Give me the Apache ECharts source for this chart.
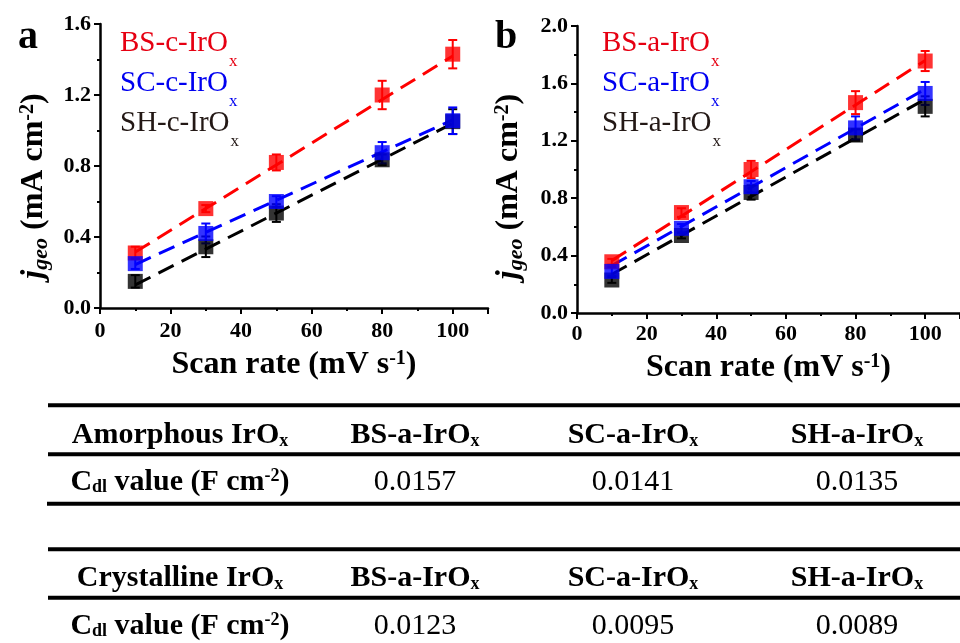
<!DOCTYPE html>
<html><head><meta charset="utf-8">
<script src="https://cdn.jsdelivr.net/npm/echarts@6/dist/echarts.min.js"></script>
<style>html,body{margin:0;padding:0;background:#fff}#c{width:960px;height:643px}</style>
</head><body><div id="c"></div>
<script>
// ---------- data ----------
const scanRates = [10, 30, 50, 80, 100];
const xTicks = [0, 20, 40, 60, 80, 100];
const xAxisEnd = 110;
const yTicksA = [0, 0.4, 0.8, 1.2, 1.6];
const yTicksB = [0, 0.4, 0.8, 1.2, 1.6, 2.0];

// panel a (crystalline)
const bsC = [0.31, 0.56, 0.82, 1.20, 1.43];
const bsCErr = [0.035, 0.02, 0.045, 0.08, 0.08];
const scC = [0.25, 0.42, 0.60, 0.875, 1.055];
const scCErr = [0.03, 0.056, 0.03, 0.06, 0.075];
const shC = [0.15, 0.345, 0.535, 0.835, 1.05];
const shCErr = [0.035, 0.058, 0.05, 0.03, 0.07];
const fitX = [10, 100];
const bsCFit = [0.315, 1.42];
const scCFit = [0.245, 1.06];
const shCFit = [0.13, 1.04];

// panel b (amorphous)
const bsA = [0.357, 0.70, 1.00, 1.466, 1.756];
const bsAErr = [0.02, 0.03, 0.06, 0.08, 0.07];
const scA = [0.29, 0.59, 0.88, 1.29, 1.53];
const scAErr = [0.03, 0.03, 0.04, 0.08, 0.08];
const shA = [0.23, 0.54, 0.84, 1.24, 1.44];
const shAErr = [0.02, 0.02, 0.05, 0.04, 0.07];
const bsAFit = [0.365, 1.76];
const scAFit = [0.33, 1.56];
const shAFit = [0.27, 1.49];

const legendA = ['BS-c-IrO', 'SC-c-IrO', 'SH-c-IrO'];
const legendB = ['BS-a-IrO', 'SC-a-IrO', 'SH-a-IrO'];

// table
const tableRowHeads = ['Amorphous IrO', 'Crystalline IrO'];
const tableCols = ['BS-a-IrO', 'SC-a-IrO', 'SH-a-IrO'];
const amorphousCdl = ['0.0157', '0.0141', '0.0135'];
const crystallineCdl = ['0.0123', '0.0095', '0.0089'];

// ---------- styles ----------
const FONT = "'Liberation Serif','Times New Roman',Times,serif";
const RED = '#ff0000', BLUE = '#0000ff', BLACK = '#000000';
const RED_T = '#e60012', BLUE_T = '#0000f0', BLACK_T = '#231815';

function fitSeries(fit, color, gi) {
  return { type: 'line', xAxisIndex: gi, yAxisIndex: gi, z: 2, silent: true,
    data: fitX.map((x, i) => [x, fit[i]]), symbol: 'none', showSymbol: false,
    lineStyle: { color, width: 3, type: [17, 9] } };
}
function errSeries(ys, errs, color, gi) {
  return { type: 'custom', xAxisIndex: gi, yAxisIndex: gi, z: 3, silent: true,
    data: scanRates.map((x, i) => [x, ys[i] - errs[i], ys[i] + errs[i]]),
    encode: { x: 0, y: [1, 2] },
    renderItem(params, api) {
      const x = api.value(0);
      const lo = api.coord([x, api.value(1)]);
      const hi = api.coord([x, api.value(2)]);
      const cw = 4.5, st = { stroke: color, lineWidth: 2 };
      return { type: 'group', children: [
        { type: 'line', shape: { x1: lo[0], y1: lo[1], x2: hi[0], y2: hi[1] }, style: st },
        { type: 'line', shape: { x1: hi[0] - cw, y1: hi[1], x2: hi[0] + cw, y2: hi[1] }, style: st },
        { type: 'line', shape: { x1: lo[0] - cw, y1: lo[1], x2: lo[0] + cw, y2: lo[1] }, style: st }
      ]};
    } };
}
function dotSeries(ys, color, gi) {
  return { type: 'scatter', xAxisIndex: gi, yAxisIndex: gi, z: 4, silent: true,
    symbol: 'rect', symbolSize: 15, itemStyle: { color },
    data: scanRates.map((x, i) => [x, ys[i]]) };
}

const tickLine = { color: '#000', width: 2 };
function xAxisOpt(gi, margin, nameGap) {
  return { gridIndex: gi, type: 'value', min: xTicks[0], max: xAxisEnd,
    interval: xTicks[1] - xTicks[0],
    axisLine: { show: true, onZero: false, lineStyle: { color: '#000', width: 2.5 } },
    axisTick: { show: true, inside: false, length: 6, lineStyle: tickLine },
    minorTick: { show: true, splitNumber: 2, length: 3, lineStyle: tickLine },
    splitLine: { show: false }, minorSplitLine: { show: false },
    axisLabel: { show: true, margin, color: '#000', fontFamily: FONT, fontSize: 22, fontWeight: 'bold',
      formatter: v => (v > xTicks[xTicks.length - 1] ? '' : String(v)) },
    name: '{b|Scan rate (mV s}{sup|-1}{b|)}', nameLocation: 'middle', nameGap,
    nameMoveOverlap: false,
    nameTextStyle: { rich: {
      b: { fontFamily: FONT, fontSize: 32, fontWeight: 'bold', lineHeight: 36, verticalAlign: 'top', color: '#000' },
      sup: { fontFamily: FONT, fontSize: 20, fontWeight: 'bold', lineHeight: 20, verticalAlign: 'top', color: '#000' }
    } } };
}
function yAxisOpt(gi, ticks, nameGap, shift) {
  return { gridIndex: gi, type: 'value', min: ticks[0], max: ticks[ticks.length - 1],
    interval: ticks[1] - ticks[0],
    axisLine: { show: true, onZero: false, lineStyle: { color: '#000', width: 2.5 } },
    axisTick: { show: true, inside: false, length: 6, lineStyle: tickLine },
    minorTick: { show: true, splitNumber: 2, length: 3, lineStyle: tickLine },
    splitLine: { show: false }, minorSplitLine: { show: false },
    axisLabel: { show: true, margin: 9, color: '#000', fontFamily: FONT, fontSize: 22, fontWeight: 'bold',
      formatter: v => v.toFixed(1) },
    name: '{j|j}{g|geo}{b| (mA cm}{sup|-2}{b|)}', nameLocation: 'middle', nameGap, nameRotate: 90,
    nameMoveOverlap: false,
    nameTextStyle: { padding: [0, shift, 0, 0], rich: {
      j: { fontFamily: FONT, fontSize: 32, fontWeight: 'bold', fontStyle: 'italic', lineHeight: 36, verticalAlign: 'top', color: '#000' },
      g: { fontFamily: FONT, fontSize: 22, fontWeight: 'bold', fontStyle: 'italic', lineHeight: 22, padding: [12, 0, 0, 0], verticalAlign: 'top', color: '#000' },
      b: { fontFamily: FONT, fontSize: 32, fontWeight: 'bold', lineHeight: 36, verticalAlign: 'top', color: '#000' },
      sup: { fontFamily: FONT, fontSize: 20, fontWeight: 'bold', lineHeight: 20, verticalAlign: 'top', color: '#000' }
    } } };
}

// ---------- graphic texts ----------
const graphics = [];
function panelLabel(t, x) {
  graphics.push({ type: 'text', style: { x, y: 37.5, text: t, fontFamily: FONT, fontSize: 40, fontWeight: 'bold',
    fill: '#000', align: 'left', verticalAlign: 'middle', textAlign: 'left', textVerticalAlign: 'middle' } });
}
panelLabel('a', 18);
panelLabel('b', 495);

function legendText(label, color, x, baseline) {
  graphics.push({ type: 'text', style: { x, y: baseline - 21.8, text: '{m|' + label + '}{s|x}',
    align: 'left', verticalAlign: 'top', textAlign: 'left', textVerticalAlign: 'top',
    rich: {
      m: { fontFamily: FONT, fontSize: 29, lineHeight: 32, verticalAlign: 'top', fill: color },
      s: { fontFamily: FONT, fontSize: 17, lineHeight: 17, padding: [24, 0, 0, 1], verticalAlign: 'top', fill: color }
    } } });
}
const legendColors = [RED_T, BLUE_T, BLACK_T];
const legendBaselines = [50.5, 90.5, 130.5];
legendA.forEach((t, i) => legendText(t, legendColors[i], 120, legendBaselines[i]));
legendB.forEach((t, i) => legendText(t, legendColors[i], 602, legendBaselines[i]));

// table lines
[[48, 405.3], [48, 454.2], [47, 503.8], [48, 549.3], [48, 597.8]].forEach(([x, y]) => {
  graphics.push({ type: 'line', shape: { x1: x, y1: y, x2: 960, y2: y }, style: { stroke: '#000', lineWidth: 4 } });
});
const tblRich = {
  hb: { fontFamily: FONT, fontSize: 30, fontWeight: 'bold', lineHeight: 34, verticalAlign: 'top', fill: '#000' },
  hs: { fontFamily: FONT, fontSize: 18, fontWeight: 'bold', lineHeight: 18, padding: [12, 0, 0, 0], verticalAlign: 'top', fill: '#000' },
  hd: { fontFamily: FONT, fontSize: 18, fontWeight: 'bold', lineHeight: 18, padding: [11, 0, 0, 0], verticalAlign: 'top', fill: '#000' },
  sup: { fontFamily: FONT, fontSize: 18, fontWeight: 'bold', lineHeight: 16, padding: [0, 0, 0, 0], verticalAlign: 'top', fill: '#000' },
  num: { fontFamily: FONT, fontSize: 30, lineHeight: 34, verticalAlign: 'top', fill: '#000' }
};
function cell(text, x, baseline) {
  graphics.push({ type: 'text', style: { x, y: baseline - 23.6, text, rich: tblRich,
    align: 'center', verticalAlign: 'top', textAlign: 'center', textVerticalAlign: 'top' } });
}
const colX = [180, 415, 633, 857];
const rowBase = [[443.5, 490.5], [587, 635]];
const cdlLabel = '{hb|C}{hd|dl}{hb| value (F cm}{sup|-2}{hb|)}';
[amorphousCdl, crystallineCdl].forEach((vals, r) => {
  cell('{hb|' + tableRowHeads[r] + '}{hs|x}', colX[0], rowBase[r][0]);
  cell(cdlLabel, colX[0], rowBase[r][1]);
  tableCols.forEach((c, k) => {
    cell('{hb|' + c + '}{hs|x}', colX[k + 1], rowBase[r][0]);
    cell('{num|' + vals[k] + '}', colX[k + 1], rowBase[r][1]);
  });
});

// ---------- chart ----------
const chart = echarts.init(document.getElementById('c'), null, { renderer: 'canvas' });
chart.setOption({
  animation: false,
  backgroundColor: '#fff',
  grid: [
    { left: 100, top: 24, width: 388, height: 284, containLabel: false, outerBoundsMode: 'none' },
    { left: 577, top: 26, width: 383, height: 287, containLabel: false, outerBoundsMode: 'none' }
  ],
  xAxis: [xAxisOpt(0, 12, 41), xAxisOpt(1, 10, 39)],
  yAxis: [yAxisOpt(0, yTicksA, 46, 40), yAxisOpt(1, yTicksB, 48, 34)],
  series: [
    fitSeries(bsCFit, RED, 0), fitSeries(scCFit, BLUE, 0), fitSeries(shCFit, BLACK, 0),
    errSeries(bsC, bsCErr, RED, 0), errSeries(shC, shCErr, BLACK, 0), errSeries(scC, scCErr, BLUE, 0),
    dotSeries(bsC, RED, 0), dotSeries(shC, BLACK, 0), dotSeries(scC, BLUE, 0),
    fitSeries(bsAFit, RED, 1), fitSeries(scAFit, BLUE, 1), fitSeries(shAFit, BLACK, 1),
    errSeries(bsA, bsAErr, RED, 1), errSeries(shA, shAErr, BLACK, 1), errSeries(scA, scAErr, BLUE, 1),
    dotSeries(bsA, RED, 1), dotSeries(shA, BLACK, 1), dotSeries(scA, BLUE, 1)
  ],
  graphic: graphics
});
</script>
</body></html>
